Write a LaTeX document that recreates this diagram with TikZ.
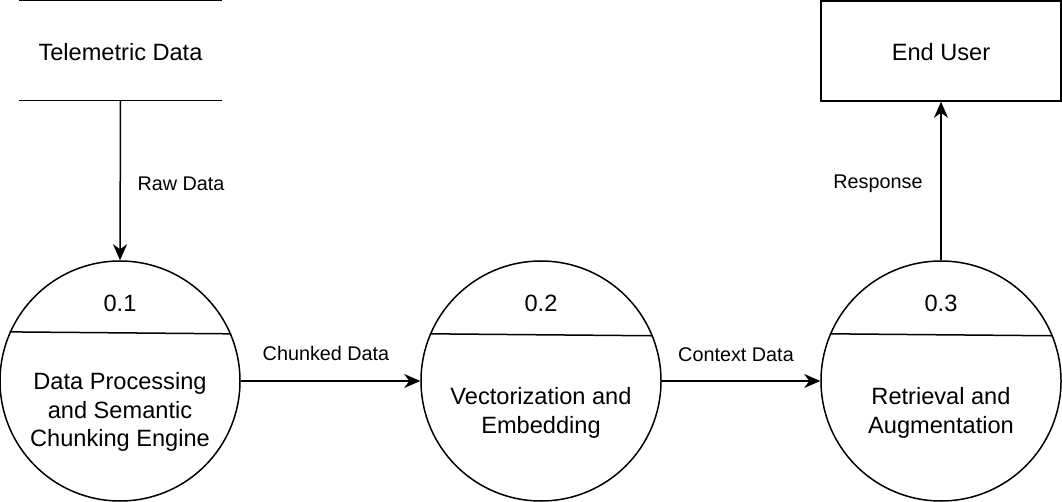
\documentclass[tikz,border=0pt]{standalone}
\usepackage{fontspec}
\setmainfont{Liberation Sans}
\usetikzlibrary{arrows.meta,calc}
\begin{document}
\begin{tikzpicture}[x=1pt,y=-1pt,
  line width=1.5pt,
  main/.style={font=\fontsize{23.6}{28.5}\selectfont, align=center, inner sep=0pt},
  lbl/.style={font=\fontsize{19.8}{24}\selectfont, inner sep=0pt},
  proc/.style={draw, circle, minimum size=240pt, inner sep=0pt},
  flow/.style={-{Stealth[length=16pt,width=14pt,inset=5pt]}}
]
\useasboundingbox (0,0) rectangle (1062,502);
% external entities
\node[main, minimum width=201pt, minimum height=99pt] (t) at (120.5,50.5) {};
\node[main] (tt) at (120.5,52) {Telemetric Data};
\draw (t.north west) -- (t.north east);
\draw (t.south west) -- (t.south east);
\node[draw, minimum width=240pt, minimum height=100pt] (u) at (941,51) {};
\node[main] (ut) at (941,52.5) {End User};
% processes
\node[proc] (p1) at (120,381) {};
\node[proc] (p2) at (541,381) {};
\node[proc] (p3) at (941,381) {};
\draw (p1.156.4) -- (p1.23.6);
\draw (p2.157.5) -- (p2.22.5);
\draw (p3.157.5) -- (p3.22.5);
\node[main] (n1) at (120,303.5) {0.1};
\node[main] (n2) at (541,303.5) {0.2};
\node[main] (n3) at (941,303.5) {0.3};
\node[main] (d1) at (120,412) {Data Processing\\and Semantic\\Chunking Engine};
\node[main] (d2) at (541,413) {Vectorization and\\Embedding};
\node[main] (d3) at (941,413) {Retrieval and\\Augmentation};
% flows
\draw[flow] (t.south) -- (p1.north);
\draw[flow] (p1.east) -- (p2.west);
\draw[flow] (p2.east) -- (p3.west);
\draw[flow] (p3.north) -- (u.south);
% labels
\node[lbl] (l1) at (181,183.5) {Raw Data};
\node[lbl] (l2) at (326,353.5) {Chunked Data};
\node[lbl] (l3) at (736,354.5) {Context Data};
\node[lbl] (l4) at (878,183.5) {Response};
\end{tikzpicture}
\end{document}
